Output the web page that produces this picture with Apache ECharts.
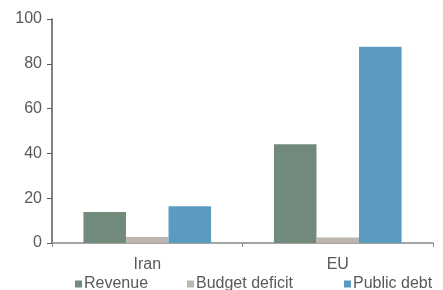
<!DOCTYPE html>
<html style="height: 100%">
<head>
    <meta charset="utf-8">
</head>
<body style="height: 100%; margin: 0">
    <div id="container" style="width: 443px; height: 290px"></div>

    <script type="text/javascript" src="https://cdn.jsdelivr.net/npm/echarts@6/dist/echarts.min.js"></script>
    <script type="text/javascript">
        var categories = ['Iran', 'EU'];
        var seriesNames = ['Revenue', 'Budget deficit', 'Public debt'];
        var revenue = [13.8, 44.1];
        var budgetDeficit = [2.7, 2.5];
        var publicDebt = [16.4, 87.6];
        var yTicks = [0, 20, 40, 60, 80, 100];

        var myChart = echarts.init(document.getElementById('container'));
        var font = 'Liberation Sans, Arial, sans-serif';
        var legendLeft = [70, 182, 339];

        // one legend per series so each item sits where the original has it
        var legends = seriesNames.map(function (name, i) {
            return {
                left: legendLeft[i],
                top: 271,
                itemWidth: 7,
                itemHeight: 7,
                icon: 'rect',
                textStyle: { fontSize: 16, color: '#595959', padding: [0, 0, 0, -3] },
                data: [name]
            };
        });

        var option = {
            animation: false,
            textStyle: { fontFamily: font },
            legend: legends,
            grid: { left: 52, right: 10, top: 19, bottom: 47, containLabel: false },
            xAxis: {
                type: 'category',
                data: categories,
                axisLine: { lineStyle: { color: '#888888', width: 1.5 } },
                axisTick: { show: true, length: 4, lineStyle: { color: '#888888' } },
                axisLabel: { fontSize: 16, color: '#595959', margin: 14 }
            },
            yAxis: {
                type: 'value',
                min: yTicks[0],
                max: yTicks[yTicks.length - 1],
                interval: 20,
                axisLine: { show: true, lineStyle: { color: '#595959', width: 1.5 } },
                axisTick: { show: true, length: 5, lineStyle: { color: '#595959' } },
                axisLabel: { fontSize: 16, color: '#595959', margin: 10 },
                splitLine: { show: false }
            },
            series: [
                {
                    name: seriesNames[0], type: 'bar', data: revenue,
                    barGap: '0%', barCategoryGap: '33%',
                    itemStyle: { color: '#728a7c' }
                },
                {
                    name: seriesNames[1], type: 'bar', data: budgetDeficit,
                    itemStyle: { color: '#bcb6b1' }
                },
                {
                    name: seriesNames[2], type: 'bar', data: publicDebt,
                    itemStyle: { color: '#5a9bbf' }
                }
            ]
        };
        myChart.setOption(option);
    </script>
</body>
</html>
